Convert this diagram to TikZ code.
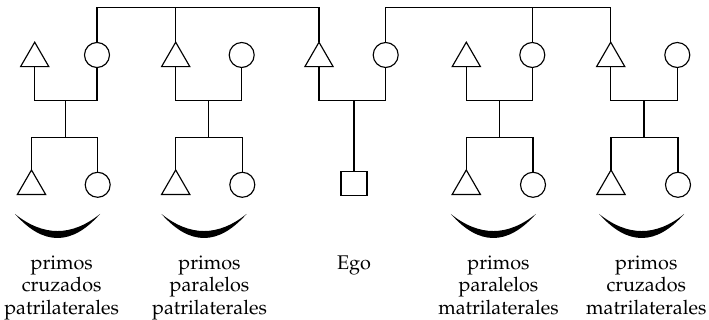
\documentclass[tikz,border=0pt]{standalone}
\usepackage[T1]{fontenc}
\usepackage{mathpazo}
\usetikzlibrary{shapes.geometric,calc}
\begin{document}
\begin{tikzpicture}[x=1pt,y=-1pt,line width=1.15pt,
  male/.style={draw,regular polygon,regular polygon sides=3,minimum size=32.6pt,inner sep=0pt,outer sep=0pt},
  female/.style={draw,circle,minimum size=25pt,inner sep=0pt,outer sep=0pt},
  egobox/.style={draw,rectangle,minimum width=26pt,minimum height=24pt,inner sep=0pt,outer sep=0pt},
  lbl/.style={font=\fontsize{19.8}{22.3}\selectfont,align=center,anchor=base,inner sep=0pt}]
\useasboundingbox (0,0) rectangle (709,320);
% parents' generation
\node[male] (t1) at (34.7,58.5) {};
\node[female] (c1) at (97,55) {};
\node[male] (t2) at (175.7,58.5) {};
\node[female] (c2) at (241.7,55) {};
\node[male] (t3) at (319,58.5) {};
\node[female] (c3) at (385.7,55) {};
\node[male] (t4) at (466.3,58.5) {};
\node[female] (c4) at (532.3,55) {};
\node[male] (t5) at (610.7,58.5) {};
\node[female] (c5) at (677.3,55) {};
% children's generation
\node[male] (k1t) at (31.5,186.3) {};
\node[female] (k1c) at (97.7,184.8) {};
\node[male] (k2t) at (175.7,186.3) {};
\node[female] (k2c) at (242.3,184.8) {};
\node[egobox] (ego) at (354,183.3) {};
\node[male] (k4t) at (466.3,186.3) {};
\node[female] (k4c) at (533,184.8) {};
\node[male] (k5t) at (611,186.3) {};
\node[female] (k5c) at (678,184.8) {};
% sibling lines of the parents
\draw (c1.north) -- (c1.north |- 0,7.3) -| (t3.corner 1);
\draw (t2.corner 1) -- (t2.corner 1 |- 0,7.3);
\draw (c3.north) -- (c3.north |- 0,7.3) -| (t5.corner 1);
\draw (c4.north) -- (c4.north |- 0,7.3);
% marriages and descent
\foreach \t/\c/\kt/\kc in {t1/c1/k1t/k1c,t2/c2/k2t/k2c,t4/c4/k4t/k4c,t5/c5/k5t/k5c}{
  \draw (\t.side 2) -- (\t.side 2 |- 0,100.7) -| (\c.south);
  \coordinate (m) at ($(\t.side 2 |- 0,100.7)!0.5!(\c.south |- 0,100.7)$);
  \draw (m) -- (m |- 0,137.3);
  \draw (\kt.corner 1) -- (\kt.corner 1 |- 0,137.3) -- (\kc.north |- 0,137.3) -- (\kc.north);
}
\draw (t3.side 2) -- (t3.side 2 |- 0,100.7) -| (c3.south);
\draw (ego.north |- 0,100.7) -- (ego.north);
% crescents
\foreach \cx in {57.5,204,493.3,641.7}
  \fill (\cx-42.5,214) .. controls (\cx-14.2,246) and (\cx+14.2,246) .. (\cx+42.5,214)
        .. controls (\cx+14.2,236.7) and (\cx-14.2,236.7) .. cycle;
% labels
\node[lbl] (l1) at (61.7,314.1) {primos\\cruzados\\patrilaterales};
\node[lbl] (l2) at (209.5,314.1) {primos\\paralelos\\patrilaterales};
\node[lbl] (l3) at (354,269.5) {Ego};
\node[lbl] (l4) at (498.5,314.1) {primos\\paralelos\\matrilaterales};
\node[lbl] (l5) at (646.3,314.1) {primos\\cruzados\\matrilaterales};
\end{tikzpicture}
\end{document}
